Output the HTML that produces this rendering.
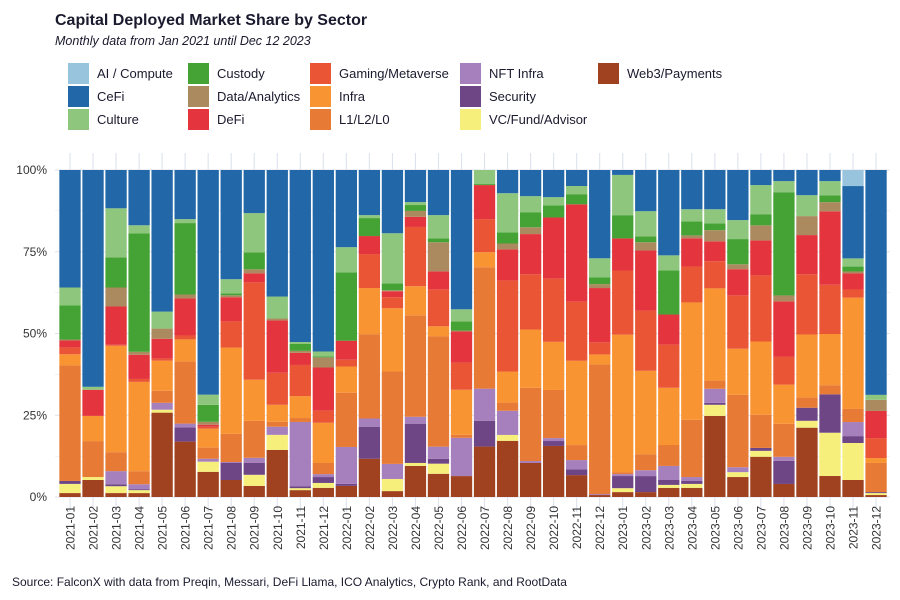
<!DOCTYPE html>
<html><head><meta charset="utf-8">
<style>
body{margin:0;background:#fff;font-family:"Liberation Sans",sans-serif;}
#c{width:900px;height:600px;position:relative;overflow:hidden}
</style></head><body>
<div id="c">
<svg id="s" width="900" height="600" xmlns="http://www.w3.org/2000/svg">
<text x="55" y="25" font-size="16" font-weight="bold" fill="#1a1a2e">Capital Deployed Market Share by Sector</text>
<text x="55" y="45" font-size="12.5" font-style="italic" fill="#1a1a2e">Monthly data from Jan 2021 until Dec 12 2023</text>
<g id="legend"></g>
<g id="grid"></g>
<g id="bars"></g>
<g id="yaxis"></g>
<g id="xaxis"></g>
<text x="12" y="586" font-size="12" fill="#1a1a2e">Source: FalconX with data from Preqin, Messari, DeFi Llama, ICO Analytics, Crypto Rank, and RootData</text>
</svg>
</div>
<script>
const months=["2021-01","2021-02","2021-03","2021-04","2021-05","2021-06","2021-07","2021-08","2021-09","2021-10","2021-11","2021-12","2022-01","2022-02","2022-03","2022-04","2022-05","2022-06","2022-07","2022-08","2022-09","2022-10","2022-11","2022-12","2023-01","2023-02","2023-03","2023-04","2023-05","2023-06","2023-07","2023-08","2023-09","2023-10","2023-11","2023-12"];
const sectors=["Web3/Payments","VC/Fund/Advisor","Security","NFT Infra","L1/L2/L0","Infra","Gaming/Metaverse","DeFi","Data/Analytics","Custody","Culture","CeFi","AI / Compute"];
const web3=[1.2,5.2,1.2,1.2,25.8,16.9,7.7,5.2,3.4,14.4,2.1,2.8,3.4,11.7,1.8,9.5,7.1,6.4,15.4,17.2,10.4,15.6,6.7,0.6,1.5,1.5,2.8,2.8,24.8,6.1,12.3,4,21.2,6.4,5.2,0.6];
const vc=[2.8,0.9,2.1,0.9,0.9,0,3.1,0,3.4,4.6,0.6,1.5,0,0,3.7,0.9,3.1,0,0,1.8,0,0,0,0,1.2,0,0.9,1.2,3.4,1.5,1.8,0,2.1,13.2,11.3,0.6];
const security=[0.9,0,0.6,0.3,0,4.3,0,5.2,3.7,0,0.6,1.8,0.6,9.8,0,12,1.5,0,7.9,0,0,1.5,1.8,0,3.7,4.9,1.5,0.9,0.6,0,0.9,7.1,4,11.7,2.1,0.3];
const nft=[0,0,4,1.5,2.1,1.2,0.9,0.3,1.5,2.5,19.6,0.9,11.3,2.5,4.6,2.1,3.7,11.7,9.8,7.4,0.6,0.9,2.8,0.3,0.6,1.8,4.3,1.2,4.3,1.5,0,1.2,0,0,4.3,0];
const l1=[35.3,11,5.8,4,3.7,19,3.4,8.6,11.3,1.5,1.2,3.4,16.6,25.8,28.2,31,33.7,0.9,37.1,2.5,22.4,14.7,4.6,39.6,0.6,4.9,6.4,17.5,2.5,22.1,10.1,10.1,3.1,2.8,4,8.9];
const infra=[3.4,7.7,32.5,27.3,9.2,6.7,5.8,26.4,12.6,5.2,6.7,12.3,8,14.1,19.3,8.9,3.1,13.8,4.6,9.5,17.8,14.7,25.8,3.1,42,25.5,17.5,35.9,28.2,14.1,22.4,12,19.3,15.6,34,1.5];
const gaming=[2.1,0,0.3,0.9,0.6,1.2,0.6,8,29.8,9.8,9.5,3.7,2.1,10.4,3.4,18.1,11.3,8.3,10.1,27.9,16.9,19.3,18.1,3.7,19.6,18.4,13.2,11,8.3,16.3,20.2,8.6,18.4,15,2.5,6.1];
const defi=[2.1,8,11.7,7.4,6.1,11.3,0.6,7.4,2.8,16,3.7,13.2,5.8,5.5,1.8,3.1,5.5,9.5,10.4,9.5,12.3,18.7,29.8,16.6,9.8,18.4,9.2,8.6,6.1,8,10.7,16.9,12,22.4,4.9,8.3];
const data=[0.3,0,5.8,0.9,3.1,1.2,0.9,0.6,1.2,0.6,0.6,3.1,0,0,0.3,1.8,8.9,0.3,0,1.8,2.1,0,0,1.2,0,2.5,0,0.9,3.4,1.5,4.6,1.8,5.8,2.8,0.6,3.4];
const custody=[10.4,0,9.2,36.2,0,21.8,5.2,0.6,5.2,0,2.1,0.3,20.9,5.5,2.1,1.8,1.2,2.8,0.3,3.4,4.6,3.7,3.1,2.1,7.1,1.8,13.5,4.3,2.1,7.7,3.4,31.6,0,2.1,1.5,0];
const culture=[5.5,0.9,15,2.5,5.2,1.2,3.1,4.3,12,6.7,0.6,1.5,7.7,0.9,15.3,0.9,7.1,3.7,4.3,12,4.9,2.5,2.5,5.8,12.3,7.7,4.6,3.7,4.3,5.8,8.9,3.4,6.4,4.3,2.5,1.5];
const cefi=[35.9,66.3,11.7,16.9,43.3,15,68.7,33.4,13.2,38.7,52.5,55.5,23.6,13.8,19.3,9.8,13.8,42.6,0,7.1,8,8.3,4.9,27,1.5,12.6,26.1,12,12,15.3,4.6,3.4,7.7,3.4,22.1,68.7];
const ai=[0,0,0,0,0,0,0,0,0,0,0,0,0,0,0,0,0,0,0,0,0,0,0,0,0,0,0,0,0,0,0,0,0,0,4.9,0];
const yTicks=["0%","25%","50%","75%","100%"];
const yTickVals=[0,25,50,75,100];

const series=[web3,vc,security,nft,l1,infra,gaming,defi,data,custody,culture,cefi,ai];
const colors=["#a0421f","#f6ef7b","#6e4686","#a680bd","#e77b35","#f99432","#ea5535","#e4353e","#ab8a60","#45a234","#8ec67d","#2268a8","#99c4de"];
const NS="http://www.w3.org/2000/svg";
const y0=497,y1=170;
function yScale(v){return y0-(v/100)*(y0-y1);}
const step=23.03,bw=21.3;
function xCenter(i){return 70+i*step;}
function mk(t,a,p){const e=document.createElementNS(NS,t);for(const k in a)e.setAttribute(k,a[k]);p.appendChild(e);return e;}

const grid=document.getElementById('grid');
for(let k=0;k<=8;k++){
  const v=k*12.5;
  const l=mk('line',{x1:55,x2:890,y1:yScale(v),y2:yScale(v),stroke:"#dde2ee","stroke-width":k%2?0.6:1.1},grid);
  
  
}
months.forEach((m,i)=>{
  const l=mk('line',{x1:xCenter(i),x2:xCenter(i),y1:153,y2:512,stroke:"#dde2ee","stroke-width":1.1},grid);
  
  
});

const bars=document.getElementById('bars');
months.forEach((m,i)=>{
  let tot=0;series.forEach(s=>tot+=s[i]);
  let cum=0;
  series.forEach((s,j)=>{
    const v=s[i]/tot*100;
    if(v<=0)return;
    const yt=yScale(cum+v),yb=yScale(cum);
    const r=mk('rect',{x:xCenter(i)-bw/2,y:yt,width:bw,height:yb-yt,fill:colors[j]},bars);
    
    
    cum+=v;
  });
});

const ya=document.getElementById('yaxis');
yTickVals.forEach((v,k)=>{
  const t=mk('text',{x:47,y:yScale(v)+4,"text-anchor":"end","font-size":12,fill:"#333"},ya);
  t.textContent=yTicks[k];
  
  
});
const xa=document.getElementById('xaxis');
months.forEach((m,i)=>{
  const t=mk('text',{x:0,y:0,"text-anchor":"end","font-size":12,fill:"#333",transform:`translate(${xCenter(i)+4.5},506) rotate(-90)`},xa);
  t.textContent=m;
  
  
});

const lg=document.getElementById('legend');
const order=[12,9,6,3,0,11,8,5,2,10,7,4,1];
const colX=[68,188,310,460,598],rowY=[63,86,109];
const legendOrder=[[12,11,10],[9,8,7],[6,5,4],[3,2,1],[0]];
legendOrder.forEach((col,ci)=>col.forEach((si,ri)=>{
  const g=mk('g',{},lg);
  
  
  mk('rect',{x:colX[ci],y:rowY[ri],width:21,height:21,fill:colors[si]},g);
  const t=mk('text',{x:colX[ci]+29,y:rowY[ri]+15,"font-size":13,fill:"#1a1a2e"},g);
  t.textContent=sectors[si];
}));
</script>
</body></html>
